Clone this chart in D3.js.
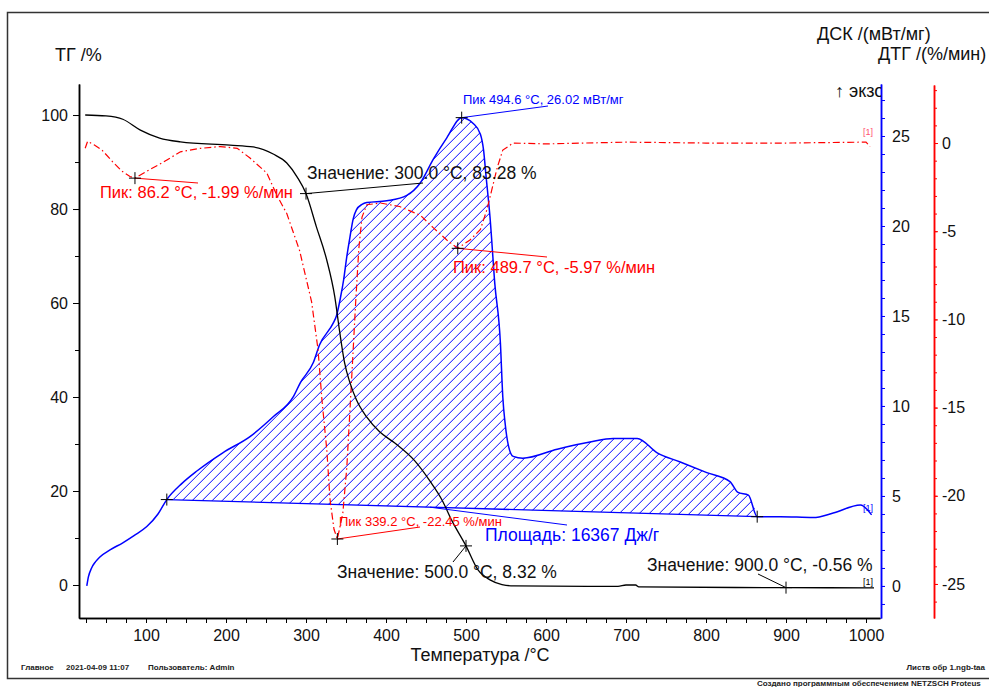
<!DOCTYPE html>
<html lang="ru">
<head>
<meta charset="UTF-8">
<title>ТГ / ДСК / ДТГ</title>
<script src="https://d3js.org/d3.v7.min.js"></script>
<style>
    body { margin: 0; background: #fff; }
    svg { display: block; font-family: Arial, "Liberation Sans", sans-serif; }
    .tick text { font-size: 16px; fill: #111; }
    .title { font-size: 18px; fill: #111; }
    .note { font-size: 17.5px; }
    .note-red { font-size: 16.5px; }
    .small { font-size: 13px; }
    .footer { font-size: 8px; font-weight: bold; fill: #222; }
</style>
</head>
<body>
<svg width="989" height="687"></svg>
<script>
// --- data: [temperature °C, value] ---
const tgData = [[24,100],[50,99.8],[71,99.1],[93,96.8],[117,95.1],[143,94.3],[205,93.6],[234,93.2],
    [259,91.7],[276,89.8],[289,86.8],[300,83.28],[313,76.2],[326,69.1],[336,61.3],[342,54],[348,47.5],
    [355,43],[363,39.4],[376,35.7],[392,32.6],[411,30.2],[436,26.4],[455,22.1],[470,18.1],[482,13.8],
    [500,8.32],[515,3.2],[530,1.1],[545,0.1],[560,-0.2],[690,-0.3],[700,0],[712,0],[716,-0.4],
    [900,-0.56],[1010,-0.6]];

const dscData = [[26,0],[28,0.5],[32,1.0],[37,1.35],[42,1.6],[55,2.0],[71,2.4],[85,2.8],[101,3.3],
    [115,4.0],[126,4.8],[145,5.7],[164,6.4],[196,7.4],[230,8.3],[259,9.4],[284,10.5],[293,11.3],
    [309,12.4],[317,13.4],[334,14.6],[338,15.0],[343,16.0],[347,17],[351,18.3],[355,19.4],[359,20.4],
    [363,20.9],[370,21.2],[376,21.3],[401,21.4],[426,21.7],[443,22.4],[459,23.7],[476,24.9],
    [494.6,26.02],[509,25.7],[518,25.1],[522,24.2],[525,22.8],[530,20.5],[536,16.8],[543,13.5],
    [546,10.5],[549,9.0],[553,7.8],[559,7.2],[571,7.1],[614,7.6],[655,8.0],[684,8.2],[714,8.2],
    [739,7.4],[767,6.9],[801,6.3],[830,5.8],[840,5.2],[853,5.05],[864,3.85],[893,3.85],[934,3.8],
    [959,4.05],[993,4.5],[1007,3.95]];

const dtgData = [[24,-0.3],[27,0.1],[35,-0.1],[45,-0.4],[59,-1.1],[70,-1.6],[80,-1.9],[86.2,-1.99],
    [101,-1.6],[121,-1.1],[143,-0.5],[168,-0.3],[193,-0.2],[214,-0.3],[230,-0.85],[251,-1.7],[264,-3.0],
    [276,-4.0],[292,-6.1],[307,-9.0],[315,-11.7],[320,-14.6],[326,-17.4],[330,-20.2],[335,-21.9],
    [339.2,-22.45],[346,-21],[351,-18.4],[355,-15.1],[359,-11.7],[362,-9.1],[366,-6.0],[370,-4.2],
    [376,-3.5],[393,-3.4],[417,-3.6],[443,-4.1],[459,-4.8],[476,-5.5],[489.7,-5.97],[505,-5.5],
    [518,-4.9],[526,-3.8],[532,-2.7],[539,-1.4],[546,-0.4],[559,0],[600,-0.05],[700,0.05],[800,0],
    [900,0],[1000,0.05],[1005,-0.2]];

// integration limits of the DSC peak and the marked points
const dscBaseline = [[126,4.8],[864,3.85]];
const tgMarks = [[300,83.28],[500,8.32],[900,-0.56]];
const dscMarks = [[494.6,26.02]];
const dtgMarks = [[86.2,-1.99],[339.2,-22.45],[489.7,-5.97]];

const xMajor = [100,200,300,400,500,600,700,800,900,1000];
const tgTicks = [0,20,40,60,80,100];
const dscTicks = [0,5,10,15,20,25];
const dtgTicks = [0,-5,-10,-15,-20,-25];

const blue = "#0000ff", red = "#ff0000";
const plain = d => String(d);

const svg = d3.select("svg");

// scales
const x = d3.scaleLinear().domain([16.25, 1017.5]).range([79, 880]);
const yTG = d3.scaleLinear().domain([-7.02, 106.6]).range([618, 84]);
const yDSC = d3.scaleLinear().domain([-1.78, 27.89]).range([618, 84]);
const yDTG = d3.scaleLinear().domain([-26.93, 3.29]).range([618, 85]);
const base = d3.scaleLinear().domain(dscBaseline.map(d => d[0])).range(dscBaseline.map(d => d[1]));

// frame
svg.append("rect").attr("x", 7.5).attr("y", 12.5).attr("width", 1000).attr("height", 666)
   .attr("fill", "none").attr("stroke", "#333").attr("stroke-width", 1.5);

// clip shapes
const defs = svg.append("defs");
const inPeak = dscData.filter(d => d[0] >= dscBaseline[0][0] && d[0] <= dscBaseline[1][0]);
const peakArea = d3.area().x(d => x(d[0])).y1(d => yDSC(d[1])).y0(d => yDSC(base(d[0])))
    .curve(d3.curveMonotoneX);
defs.append("clipPath").attr("id", "peakClip")
    .append("path").datum(inPeak).attr("d", peakArea);
defs.append("clipPath").attr("id", "exoClip")
    .append("rect").attr("x", 0).attr("y", 0).attr("width", 881).attr("height", 687);

// axes
function styleAxis(g, color) {
    g.selectAll("path.domain").attr("stroke", color).attr("stroke-width", 1.5);
    g.selectAll(".tick line").attr("stroke", color);
}
const xMinor = d3.range(25, 1001, 25);
svg.append("g").attr("transform", "translate(0,618)")
   .call(d3.axisBottom(x).tickValues(xMinor).tickFormat("").tickSize(5).tickSizeOuter(0))
   .call(g => styleAxis(g, "#000"));
svg.append("g").attr("transform", "translate(0,618)")
   .call(d3.axisBottom(x).tickValues(xMajor).tickFormat(plain).tickSize(5).tickPadding(7).tickSizeOuter(0))
   .call(g => styleAxis(g, "#000"));

svg.append("g").attr("transform", "translate(79,0)")
   .call(d3.axisLeft(yTG).tickValues(d3.range(0, 101, 10)).tickFormat("").tickSize(4).tickSizeOuter(0))
   .call(g => styleAxis(g, "#000"));
svg.append("g").attr("transform", "translate(79,0)")
   .call(d3.axisLeft(yTG).tickValues(tgTicks).tickFormat(plain).tickSize(6).tickPadding(5).tickSizeOuter(0))
   .call(g => styleAxis(g, "#000"));

svg.append("g").attr("transform", "translate(881,0)")
   .call(d3.axisRight(yDSC).tickValues(d3.range(-1, 28, 1)).tickFormat("").tickSize(4).tickSizeOuter(0))
   .call(g => styleAxis(g, blue));
svg.append("g").attr("transform", "translate(881,0)")
   .call(d3.axisRight(yDSC).tickValues(dscTicks).tickFormat(plain).tickSize(4).tickPadding(7).tickSizeOuter(0))
   .call(g => styleAxis(g, blue));

svg.append("g").attr("transform", "translate(934,0)")
   .call(d3.axisRight(yDTG).tickValues(d3.range(-26, 4, 1)).tickFormat("").tickSize(3).tickSizeOuter(0))
   .call(g => styleAxis(g, red));
svg.append("g").attr("transform", "translate(934,0)")
   .call(d3.axisRight(yDTG).tickValues(dtgTicks).tickFormat(plain).tickSize(4).tickPadding(4).tickSizeOuter(0))
   .call(g => styleAxis(g, red));

// titles
svg.append("text").attr("class", "title").attr("x", 55).attr("y", 61).text("ТГ /%");
svg.append("text").attr("class", "title").attr("x", 817).attr("y", 40).text("ДСК /(мВт/мг)");
svg.append("text").attr("class", "title").attr("x", 878).attr("y", 60).text("ДТГ /(%/мин)");
svg.append("text").attr("class", "title").attr("x", 835).attr("y", 97)
   .attr("clip-path", "url(#exoClip)").text("↑ экзо");
svg.append("text").attr("class", "title").attr("x", 480).attr("y", 661)
   .attr("text-anchor", "middle").text("Температура /°C");

// hatched DSC peak area: diagonal lines clipped to the peak
const x0 = x(dscBaseline[0][0]) - 500, x1 = x(dscBaseline[1][0]) + 10;
const yBot = yDSC(0), span = yDSC(0) - yDSC(27);
svg.append("g").attr("clip-path", "url(#peakClip)")
   .selectAll("line").data(d3.range(x0, x1, 10)).join("line")
   .attr("x1", d => d).attr("y1", yBot)
   .attr("x2", d => d + span).attr("y2", yBot - span)
   .attr("stroke", blue).attr("stroke-width", 1);
svg.append("path").datum(dscBaseline)
   .attr("d", d3.line().x(d => x(d[0])).y(d => yDSC(d[1])))
   .attr("fill", "none").attr("stroke", blue).attr("stroke-width", 1.3);

// curves
svg.append("path").datum(dscData)
   .attr("d", d3.line().x(d => x(d[0])).y(d => yDSC(d[1])).curve(d3.curveMonotoneX))
   .attr("fill", "none").attr("stroke", blue).attr("stroke-width", 1.5);
svg.append("path").datum(dtgData)
   .attr("d", d3.line().x(d => x(d[0])).y(d => yDTG(d[1])))
   .attr("fill", "none").attr("stroke", red).attr("stroke-width", 1.2)
   .attr("stroke-dasharray", "7,3,1.5,3");
svg.append("path").datum(tgData)
   .attr("d", d3.line().x(d => x(d[0])).y(d => yTG(d[1])).curve(d3.curveMonotoneX))
   .attr("fill", "none").attr("stroke", "#000").attr("stroke-width", 1.3);

// markers
function plus(px, py) {
    svg.append("path").attr("d", `M${px - 6},${py} H${px + 6} M${px},${py - 6} V${py + 6}`)
       .attr("stroke", "#000").attr("stroke-width", 1);
}
function leader(xa, ya, xb, yb, color) {
    svg.append("line").attr("x1", xa).attr("y1", ya).attr("x2", xb).attr("y2", yb)
       .attr("stroke", color).attr("stroke-width", 1);
}
function note(px, py, txt, color, cls) {
    svg.append("text").attr("class", cls).attr("x", px).attr("y", py).attr("fill", color).text(txt);
}

// DSC peak
leader(x(dscMarks[0][0]), yDSC(dscMarks[0][1]), 548, 106, blue);
plus(x(dscMarks[0][0]), yDSC(dscMarks[0][1]));
note(463, 104, "Пик 494.6 °C, 26.02 мВт/мг", blue, "small");
dscBaseline.forEach(d => plus(x(d[0]), yDSC(d[1])));
leader(x(455), yDSC(base(455)), 567, 525, blue);
note(485, 541, "Площадь: 16367 Дж/г", blue, "note");

// DTG peaks
const dtgLead = [[198, 183], [420, 527], [547, 257]];
dtgMarks.forEach((d, i) => {
    leader(x(d[0]), yDTG(d[1]), dtgLead[i][0], dtgLead[i][1], red);
    plus(x(d[0]), yDTG(d[1]));
});
note(100, 198, "Пик: 86.2 °C, -1.99 %/мин", red, "note-red");
note(339, 526, "Пик 339.2 °C, -22.45 %/мин", red, "small");
note(453, 273, "Пик: 489.7 °C, -5.97 %/мин", red, "note-red");

// TG values
const tgLead = [[423, 183], [453, 562], [758, 574]];
tgMarks.forEach((d, i) => {
    leader(x(d[0]), yTG(d[1]), tgLead[i][0], tgLead[i][1], "#000");
    plus(x(d[0]), yTG(d[1]));
});
note(307, 179, "Значение: 300.0 °C, 83.28 %", "#111", "note");
note(337, 578, "Значение: 500.0 °C, 8.32 %", "#111", "note");
note(647, 571, "Значение: 900.0 °C, -0.56 %", "#111", "note");

// curve tags
svg.append("text").attr("x", 873).attr("y", 585).attr("text-anchor", "end")
   .style("font-size", "9px").attr("fill", "#000").text("[1]");
svg.append("text").attr("x", 873).attr("y", 135).attr("text-anchor", "end")
   .style("font-size", "9px").attr("fill", "#ff5070").text("[1]");
svg.append("text").attr("x", 873).attr("y", 511).attr("text-anchor", "end")
   .style("font-size", "9px").attr("fill", blue).text("[1]");

// footer
note(21, 670, "Главное", "#222", "footer");
note(66, 670, "2021-04-09 11:07", "#222", "footer");
note(148, 670, "Пользователь: Admin", "#222", "footer");
svg.append("text").attr("class", "footer").attr("x", 985).attr("y", 670)
   .attr("text-anchor", "end").text("Листв обр  1.ngb-taa");
note(757, 685.5, "Создано программным обеспечением NETZSCH Proteus", "#222", "footer");
</script>
</body>
</html>
